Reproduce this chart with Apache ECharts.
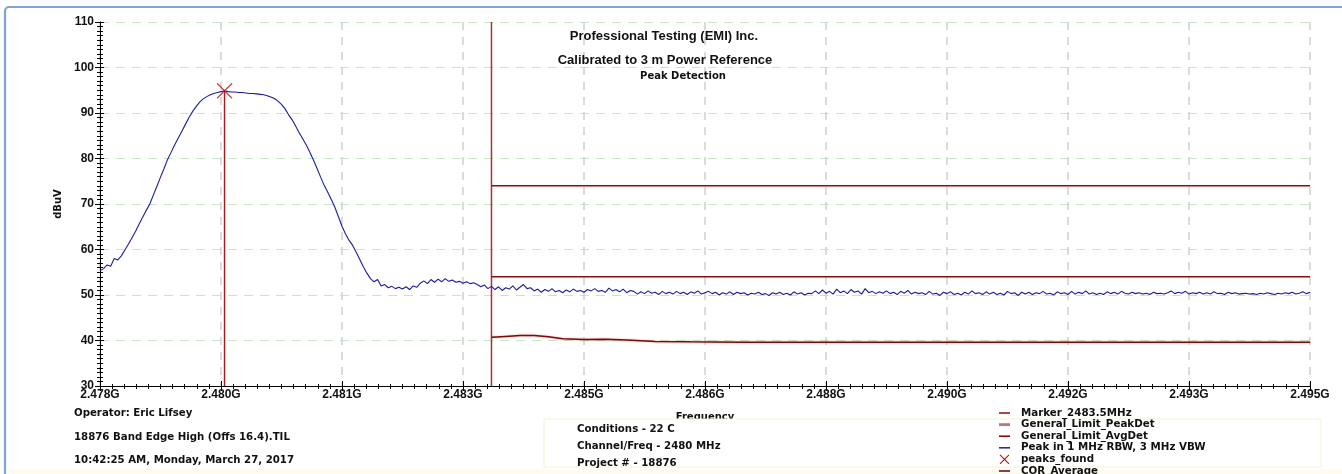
<!DOCTYPE html>
<html>
<head>
<meta charset="utf-8">
<script src="https://cdn.jsdelivr.net/npm/echarts@6/dist/echarts.min.js"></script>
<style>
  html, body { margin: 0; padding: 0; background: #ffffff; }
  #chart { width: 1342px; height: 474px; }
</style>
</head>
<body>
<div id="chart"></div>
<script>
// ---- Sweep settings (MHz) ----
const sweepStartMHz = 2478;
const sweepStopMHz = 2495;
const sweepStepMHz = 0.05;

// ---- Axis tick labels ----
const xTickLabels = ['2.478G', '2.480G', '2.481G', '2.483G', '2.485G', '2.486G',
                     '2.488G', '2.490G', '2.492G', '2.493G', '2.495G'];
const yMin = 30;
const yMax = 110;
const yStep = 10;

// ---- Peak in 1 MHz RBW, 3 MHz VBW trace (dBuV), one value per sweep step ----
const peakTrace = [
  55.3, 55.8, 56.6, 56.3, 58.0, 57.7, 58.6, 59.9, 61.2, 62.6,
  64.0, 65.6, 67.1, 68.6, 70.0, 72.0, 73.9, 75.9, 77.8, 79.8,
  81.4, 83.0, 84.5, 86.0, 87.5, 89.0, 90.3, 91.4, 92.4, 93.1,
  93.6, 94.0, 94.3, 94.5, 94.7, 94.9, 94.7, 94.6, 94.6, 94.5,
  94.5, 94.4, 94.3, 94.3, 94.2, 94.1, 94.0, 93.8, 93.5, 93.2,
  92.6, 91.9, 90.9, 89.6, 88.5, 87.1, 85.6, 84.3, 82.9, 81.3,
  79.6, 77.8, 75.9, 74.1, 72.6, 71.0, 69.3, 67.2, 65.1, 63.4,
  62.0, 60.9, 59.4, 57.8, 56.2, 54.8, 53.6, 52.9, 53.4, 52.0,
  52.3, 51.6, 51.9, 51.4, 51.7, 51.3, 51.8, 51.2, 52.0, 51.7,
  52.6, 53.1, 52.5, 53.4, 52.8, 53.5, 52.9, 53.6, 53.0, 53.3,
  52.8, 53.0, 52.6, 52.9, 52.5, 52.7, 52.3, 51.8, 52.2, 51.4,
  51.9,
  51.2, 51.8, 51.0, 51.6, 51.3, 52.0, 51.1, 51.7, 52.3, 51.4,
  51.6, 50.9, 51.3, 50.6, 51.2, 50.8, 51.4, 50.7, 51.0, 50.5,
  51.1, 50.7, 51.3, 50.8, 51.0, 50.6, 51.2, 50.9, 51.4, 50.8,
  51.0, 50.6, 51.5, 50.9, 51.2, 50.7, 51.3, 50.5, 51.0, 50.8,
  50.2, 50.7, 50.3, 50.9, 50.4, 50.6, 50.1, 50.8, 50.3, 50.6,
  50.2, 50.8, 50.3, 50.6, 50.1, 50.7, 50.4, 50.9, 50.2, 50.5,
  50.8, 50.3, 50.6, 50.0, 50.5, 50.2, 50.7, 50.1, 50.6, 50.3,
  50.5, 50.0, 50.4, 50.2, 50.6, 50.1, 50.3, 49.9, 50.5, 50.2,
  50.6, 50.1, 50.4, 50.0, 50.7, 50.2, 50.5, 50.0, 50.4, 50.3,
  50.9, 50.3, 51.1, 50.4, 50.8, 50.2, 51.3, 50.5, 50.9, 50.3,
  51.2, 50.6, 50.9, 50.2, 51.4, 50.5, 50.8, 50.3, 50.7, 50.4,
  50.9, 50.3, 50.6, 50.1, 50.8, 50.4, 51.0, 50.2, 50.6, 50.3,
  50.5, 50.1, 50.8, 50.2, 50.4, 49.9, 50.6, 50.3, 50.7, 50.1,
  50.4, 50.0, 50.6, 50.2, 50.9, 50.3, 50.5, 50.1, 50.7, 50.2,
  50.6, 50.1, 50.4, 50.0, 50.8, 50.3, 50.5, 49.9, 50.6, 50.2,
  50.6, 50.1, 50.5, 50.3, 50.8, 50.2, 50.4, 50.0, 50.7, 50.3,
  50.5, 50.1, 50.8, 50.2, 50.6, 50.3, 50.9, 50.2, 50.5, 50.1,
  50.4, 50.1, 50.7, 50.3, 50.6, 50.2, 50.8, 50.4, 50.2, 50.6,
  50.3, 50.5, 50.2, 50.4, 50.1, 50.6, 50.3, 50.4, 50.2, 50.5,
  50.9, 50.3, 50.6, 50.4, 50.8, 50.2, 50.5, 50.3, 50.6, 50.2,
  50.5, 50.2, 50.7, 50.3, 50.4, 50.1, 50.6, 50.3, 50.5, 50.2,
  50.3, 50.4, 50.2, 50.3, 50.1, 50.4, 50.2, 50.5, 50.3, 50.1,
  50.4, 50.2, 50.5, 50.3, 50.6, 50.2, 50.4, 50.7, 50.3, 50.6
];

// ---- COR_Average trace ----
const corFreqMHz = [2483.5, 2483.7, 2483.9, 2484.1, 2484.3, 2484.5, 2484.8,
                    2485.1, 2485.4, 2485.8, 2486.3, 2487.0, 2495.0];
const corLevel = [40.7, 40.9, 41.1, 41.1, 40.8, 40.4, 40.2,
                  40.3, 40.1, 39.8, 39.7, 39.6, 39.6];

// ---- Band edge marker and limits ----
const bandEdgeMHz = 2483.5;
const limitFreqMHz = [2483.5, 2495.0];
const peakDetLimit = [74, 74];
const avgDetLimit = [54, 54];

// ---- Peaks found ----
const peakFreqMHz = [2479.75];
const peakLevel = [94.9];

// ---- Annotation text ----
const headerLines = ['Professional Testing (EMI) Inc.', 'Calibrated to 3 m Power Reference', 'Peak Detection'];
const infoLines = ['Operator: Eric Lifsey', '18876 Band Edge High (Offs 16.4).TIL', '10:42:25 AM, Monday, March 27, 2017'];
const conditionLines = ['Conditions - 22 C', 'Channel/Freq - 2480 MHz', 'Project # - 18876'];

// ---- Build series data (x measured from the sweep start) ----
const span = sweepStopMHz - sweepStartMHz;
const xInterval = span / (xTickLabels.length - 1);
const toX = f => +(f - sweepStartMHz).toFixed(4);

const traceData = peakTrace.map((v, i) => [toX(sweepStartMHz + i * sweepStepMHz), v]);
const corData = corFreqMHz.map((f, i) => [toX(f), corLevel[i]]);
const peakLimitData = limitFreqMHz.map((f, i) => [toX(f), peakDetLimit[i]]);
const avgLimitData = limitFreqMHz.map((f, i) => [toX(f), avgDetLimit[i]]);
const markerData = [[toX(bandEdgeMHz), yMin], [toX(bandEdgeMHz), yMax]];
const peakData = peakFreqMHz.map((f, i) => [toX(f), peakLevel[i]]);
const peakDropData = [[toX(peakFreqMHz[0]), yMin], [toX(peakFreqMHz[0]), peakLevel[0]]];

const FONT_AX = '"Liberation Sans", Arial, sans-serif';
const FONT_TX = '"DejaVu Sans", sans-serif';
const X_ICON = 'path://M0,0 L10,10 M10,0 L0,10';
const LINE_ICON = 'path://M0,0 L11,0 L11,1.6 L0,1.6 Z';
const WIDE_ICON = 'path://M0,0 L11,0 L11,2.8 L0,2.8 Z';

const C_MARKER = '#a53434';
const C_LIMIT = '#8c0d0d';
const C_TRACE = '#1c1c9c';
const C_PEAK = '#c01010';
const C_COR = '#7d0a0a';

const chart = echarts.init(document.getElementById('chart'), null, { renderer: 'canvas' });

const xCommon = { type: 'value', min: 0, max: span, interval: xInterval, position: 'bottom' };
const yCommon = { type: 'value', min: yMin, max: yMax, interval: yStep, position: 'left' };

const option = {
  animation: false,
  backgroundColor: '#ffffff',
  grid: { left: 100, right: 32, top: 22, bottom: 88, containLabel: false },
  xAxis: [
    Object.assign({}, xCommon, {
      name: 'Frequency',
      nameLocation: 'middle',
      nameGap: 26,
      nameTextStyle: { fontFamily: FONT_TX, fontWeight: 'bold', fontSize: 10, color: '#111' },
      axisLine: { show: true, lineStyle: { color: '#000', width: 1 } },
      axisTick: { show: true, inside: false, length: 5, lineStyle: { color: '#000' } },
      minorTick: { show: true, splitNumber: 10, length: 3, lineStyle: { color: '#000' } },
      axisLabel: {
        margin: 3, fontFamily: FONT_AX, fontWeight: 'bold', fontSize: 12, color: '#111',
        formatter: v => xTickLabels[Math.round(v / xInterval)] || ''
      },
      splitLine: { show: true, lineStyle: { color: '#cfcfcf', width: 1.5, type: [8, 7] } }
    }),
    Object.assign({}, xCommon, {
      axisLine: { show: false },
      axisTick: { show: true, inside: true, length: 5, lineStyle: { color: '#000' } },
      minorTick: { show: true, splitNumber: 10, length: 2, lineStyle: { color: '#000' } },
      axisLabel: { show: false },
      splitLine: { show: false }
    })
  ],
  yAxis: [
    Object.assign({}, yCommon, {
      name: 'dBuV',
      nameLocation: 'middle',
      nameGap: 30,
      nameRotate: 90,
      nameTextStyle: { fontFamily: FONT_TX, fontWeight: 'bold', fontSize: 10, color: '#111' },
      axisLine: { show: true, lineStyle: { color: '#000', width: 1 } },
      axisTick: { show: true, inside: false, length: 5, lineStyle: { color: '#000' } },
      minorTick: { show: true, splitNumber: 10, length: 3, lineStyle: { color: '#000' } },
      axisLabel: { margin: 6, fontFamily: FONT_AX, fontWeight: 'bold', fontSize: 12, color: '#111' },
      splitLine: { show: true, lineStyle: { color: '#c8e4c8', width: 1.2, type: [9, 7] } }
    }),
    Object.assign({}, yCommon, {
      axisLine: { show: false },
      axisTick: { show: true, inside: true, length: 4, lineStyle: { color: '#000' } },
      minorTick: { show: true, splitNumber: 10, length: 3, lineStyle: { color: '#000' } },
      axisLabel: { show: false },
      splitLine: { show: false }
    })
  ],
  legend: {
    orient: 'vertical',
    left: 999,
    top: 407.5,
    height: 120,
    padding: 0,
    itemWidth: 11,
    itemHeight: 9,
    itemGap: 0.6,
    selectedMode: false,
    z: 10,
    textStyle: { fontFamily: FONT_TX, fontWeight: 'bold', fontSize: 10.3, lineHeight: 11, color: '#111', padding: [0, 0, 0, 6] },
    data: [
      { name: 'Marker_2483.5MHz', icon: LINE_ICON, itemStyle: { color: '#8e1c1c', borderWidth: 0, opacity: 1 } },
      { name: 'General_Limit_PeakDet', icon: WIDE_ICON, itemStyle: { color: '#c47474', borderWidth: 0, opacity: 1 } },
      { name: 'General_Limit_AvgDet', icon: LINE_ICON, itemStyle: { color: C_LIMIT, borderWidth: 0, opacity: 1 } },
      { name: 'Peak in 1 MHz RBW, 3 MHz VBW', icon: LINE_ICON, itemStyle: { color: '#2626c0', borderWidth: 0, opacity: 1 } },
      { name: 'peaks_found', icon: X_ICON, itemStyle: { color: 'rgba(0,0,0,0)', borderColor: C_PEAK, borderWidth: 1.1, opacity: 1 } },
      { name: 'COR_Average', icon: LINE_ICON, itemStyle: { color: C_COR, borderWidth: 0, opacity: 1 } }
    ]
  },
  series: [
    {
      name: 'Marker_2483.5MHz', type: 'line', data: markerData, symbol: 'none',
      color: C_MARKER, lineStyle: { color: C_MARKER, width: 1.5 }, z: 3
    },
    {
      name: 'General_Limit_PeakDet', type: 'line', data: peakLimitData, symbol: 'none',
      color: C_LIMIT, lineStyle: { color: C_LIMIT, width: 1.4 }, z: 3
    },
    {
      name: 'General_Limit_AvgDet', type: 'line', data: avgLimitData, symbol: 'none',
      color: C_LIMIT, lineStyle: { color: C_LIMIT, width: 1.4 }, z: 3
    },
    {
      name: 'Peak in 1 MHz RBW, 3 MHz VBW', type: 'line', data: traceData, symbol: 'none',
      color: C_TRACE, lineStyle: { color: C_TRACE, width: 1.1 }, z: 4
    },
    {
      name: 'peak_drop', type: 'line', data: peakDropData, symbol: 'none',
      color: '#a52020', lineStyle: { color: '#a52020', width: 1.5 }, z: 3
    },
    {
      name: 'peaks_found', type: 'scatter', data: peakData, symbol: X_ICON, symbolSize: 15,
      itemStyle: { color: 'rgba(0,0,0,0)', borderColor: C_PEAK, borderWidth: 1.2 }, z: 6
    },
    {
      name: 'COR_Average', type: 'line', data: corData, symbol: 'none',
      color: C_COR, lineStyle: { color: C_COR, width: 1.5, shadowColor: 'rgba(200,80,80,0.5)', shadowBlur: 2 }, z: 3
    }
  ],
  graphic: {
    elements: [
      // outer frame
      { type: 'rect', z: 20, silent: true, shape: { x: 5, y: 7, width: 1400, height: 520, r: 4 },
        style: { fill: 'none', stroke: '#7ea5d6', lineWidth: 2.2 } },
      // cream strip along the bottom edge
      { type: 'rect', z: 1, silent: true, shape: { x: 6, y: 469, width: 1336, height: 6 },
        style: { fill: '#fffcef' } },
      // conditions box
      { type: 'rect', z: 5, silent: true, shape: { x: 544, y: 419, width: 777, height: 48 },
        style: { fill: '#ffffff', stroke: '#f6f0da', lineWidth: 1 } },
      // header
      { type: 'text', z: 6, silent: true, style: { text: headerLines[0], x: 664, y: 36, align: 'center', verticalAlign: 'middle',
        font: 'bold 13px ' + FONT_AX, fill: '#111' } },
      { type: 'text', z: 6, silent: true, style: { text: headerLines[1], x: 665, y: 60, align: 'center', verticalAlign: 'middle',
        font: 'bold 13px ' + FONT_AX, fill: '#111' } },
      { type: 'text', z: 6, silent: true, style: { text: headerLines[2], x: 683, y: 76, align: 'center', verticalAlign: 'middle',
        font: 'bold 10px ' + FONT_TX, fill: '#111' } },
      // run information
      { type: 'text', z: 6, silent: true, style: { text: infoLines[0], x: 74, y: 413, align: 'left', verticalAlign: 'middle',
        font: 'bold 10.2px ' + FONT_TX, fill: '#111' } },
      { type: 'text', z: 6, silent: true, style: { text: infoLines[1], x: 74, y: 437, align: 'left', verticalAlign: 'middle',
        font: 'bold 10.2px ' + FONT_TX, fill: '#111' } },
      { type: 'text', z: 6, silent: true, style: { text: infoLines[2], x: 74, y: 460, align: 'left', verticalAlign: 'middle',
        font: 'bold 10.2px ' + FONT_TX, fill: '#111' } },
      // conditions
      { type: 'text', z: 6, silent: true, style: { text: conditionLines[0], x: 577, y: 429.5, align: 'left', verticalAlign: 'middle',
        font: 'bold 10.2px ' + FONT_TX, fill: '#111' } },
      { type: 'text', z: 6, silent: true, style: { text: conditionLines[1], x: 577, y: 446, align: 'left', verticalAlign: 'middle',
        font: 'bold 10.2px ' + FONT_TX, fill: '#111' } },
      { type: 'text', z: 6, silent: true, style: { text: conditionLines[2], x: 577, y: 463, align: 'left', verticalAlign: 'middle',
        font: 'bold 10.2px ' + FONT_TX, fill: '#111' } }
    ]
  }
};

chart.setOption(option);
</script>
</body>
</html>
